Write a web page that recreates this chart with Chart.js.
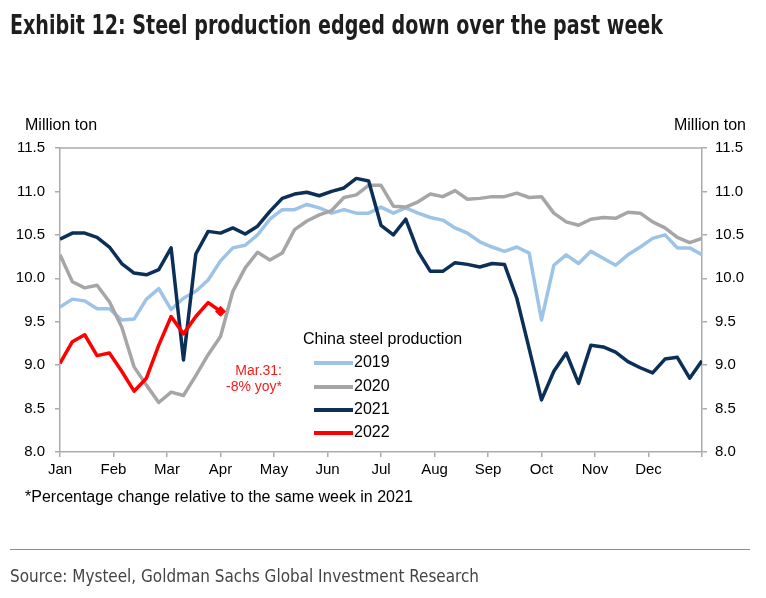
<!DOCTYPE html>
<html>
<head>
<meta charset="utf-8">
<title>Exhibit 12: Steel production</title>
<script src="https://cdn.jsdelivr.net/npm/chart.js@4.4.1/dist/chart.umd.min.js"></script>
<style>
  html, body { margin: 0; padding: 0; background: #fff; }
  .page { position: relative; width: 766px; height: 598px; overflow: hidden; font-family: "Liberation Sans", Arial, sans-serif; color: #000; }
  .chart-box { position: absolute; left: 0; top: 0; width: 766px; height: 598px; }
  .title { position: absolute; left: 10px; top: 9px; white-space: nowrap; transform-origin: 0 0; font-family: "Liberation Sans Narrow", "DejaVu Sans Condensed", "Arial Narrow", sans-serif; font-weight: bold; font-size: 27px; color: #1e1e1e; }
  .unit { position: absolute; top: 116px; font-size: 16px; white-space: nowrap; }
  .unit.left { left: 25px; }
  .unit.right { right: 20px; }
  .note { position: absolute; left: 25px; top: 488px; font-size: 16px; white-space: nowrap; }
  .rule { position: absolute; left: 10px; width: 740px; top: 549px; border-top: 1px solid #8c8c8c; }
  .source { position: absolute; left: 10px; top: 565px; white-space: nowrap; transform-origin: 0 0; font-family: "Liberation Sans Narrow", "DejaVu Sans Condensed", "Arial Narrow", sans-serif; font-size: 18px; color: #444; }
</style>
</head>
<body>
<div class="page">
  <div class="chart-box"><canvas id="steelChart"></canvas></div>
  <div class="title" data-fit="653">Exhibit 12: Steel production edged down over the past week</div>
  <div class="unit left">Million ton</div>
  <div class="unit right">Million ton</div>
  <div class="note">*Percentage change relative to the same week in 2021</div>
  <div class="rule"></div>
  <div class="source" data-fit="469">Source: Mysteel, Goldman Sachs Global Investment Research</div>
</div>

<script>
// Weekly output, million tons (53 weeks, Jan -> Dec)
const months = ['Jan', 'Feb', 'Mar', 'Apr', 'May', 'Jun', 'Jul', 'Aug', 'Sep', 'Oct', 'Nov', 'Dec'];
const yTicks = [8.0, 8.5, 9.0, 9.5, 10.0, 10.5, 11.0, 11.5];

const steel2019 = [9.67, 9.76, 9.74, 9.65, 9.65, 9.52, 9.53, 9.76, 9.88, 9.64,
                   9.77, 9.85, 9.98, 10.20, 10.35, 10.38, 10.50, 10.68, 10.79, 10.79,
                   10.85, 10.81, 10.75, 10.79, 10.75, 10.75, 10.82, 10.75, 10.81, 10.75,
                   10.70, 10.67, 10.58, 10.52, 10.42, 10.36, 10.31, 10.36, 10.29, 9.52,
                   10.15, 10.27, 10.17, 10.31, 10.23, 10.15, 10.27, 10.36, 10.46, 10.50,
                   10.35, 10.35, 10.27];
const steel2020 = [10.27, 9.96, 9.89, 9.92, 9.73, 9.44, 8.98, 8.77, 8.57, 8.69,
                   8.65, 8.88, 9.12, 9.33, 9.85, 10.12, 10.30, 10.21, 10.29, 10.56,
                   10.66, 10.73, 10.78, 10.93, 10.96, 11.07, 11.07, 10.83, 10.82, 10.88,
                   10.97, 10.94, 11.01, 10.91, 10.92, 10.94, 10.94, 10.98, 10.93, 10.94,
                   10.75, 10.65, 10.61, 10.68, 10.70, 10.69, 10.76, 10.75, 10.65, 10.58,
                   10.47, 10.41, 10.46];
const steel2021 = [10.45, 10.52, 10.52, 10.47, 10.36, 10.17, 10.06, 10.04, 10.10, 10.35,
                   9.06, 10.28, 10.54, 10.52, 10.58, 10.51, 10.60, 10.77, 10.92, 10.97,
                   10.99, 10.95, 11.00, 11.04, 11.15, 11.12, 10.61, 10.50, 10.68, 10.31,
                   10.08, 10.08, 10.18, 10.16, 10.13, 10.17, 10.16, 9.77, 9.19, 8.60,
                   8.93, 9.14, 8.79, 9.23, 9.21, 9.15, 9.04, 8.97, 8.91, 9.07,
                   9.09, 8.85, 9.05];
const steel2022 = [9.02, 9.27, 9.35, 9.11, 9.14, 8.93, 8.70, 8.85, 9.23, 9.56,
                   9.36, 9.56, 9.72, 9.62];

const lastWeek = 52;
const axisGrey = '#ababab';
const textFont = { family: '"Liberation Sans", Arial, sans-serif', size: 15 };

const toPoints = (values) => values.map((v, i) => ({ x: i, y: v }));

// Month boundaries expressed in week units
const monthTicks = () => {
    const ticks = [];
    for (let m = 0; m <= 12; m++) ticks.push({ value: m * lastWeek / 12 });
    return ticks;
};

// Squeeze the condensed headings to the width they have in the exhibit
const fitHeadings = () => {
    document.querySelectorAll('[data-fit]').forEach(el => {
        const target = Number(el.dataset.fit);
        const w = el.getBoundingClientRect().width;
        if (w > 0) el.style.transform = `scaleX(${target / w})`;
    });
};

// Top border + in-plot legend + annotation
const plotExtras = {
    id: 'plotExtras',
    beforeDatasetsDraw(chart) {
        const { ctx, chartArea: a } = chart;
        ctx.save();
        ctx.strokeStyle = axisGrey;
        ctx.lineWidth = 1.5;
        ctx.beginPath();
        ctx.moveTo(a.left, a.top);
        ctx.lineTo(a.right, a.top);
        ctx.stroke();
        ctx.restore();
    },
    afterDraw(chart) {
        const { ctx } = chart;
        ctx.save();
        ctx.font = '16px "Liberation Sans", Arial, sans-serif';
        ctx.textBaseline = 'middle';
        ctx.fillStyle = '#000';
        ctx.textAlign = 'left';
        ctx.fillText('China steel production', 303, 340);

        const rows = [363, 387, 410, 433];
        chart.data.datasets.forEach((ds, i) => {
            const y = rows[i];
            ctx.strokeStyle = ds.borderColor;
            ctx.lineWidth = 4;
            ctx.beginPath();
            ctx.moveTo(314, y);
            ctx.lineTo(353, y);
            ctx.stroke();
            ctx.fillStyle = '#000';
            ctx.fillText(ds.label, 354, y);
        });

        // Latest reading note
        ctx.fillStyle = '#f21c1c';
        ctx.textAlign = 'right';
        ctx.font = '14px "Liberation Sans", Arial, sans-serif';
        ctx.fillText('Mar.31:', 282, 371);
        ctx.fillText('-8% yoy*', 282, 387);
        ctx.restore();
    }
};

const initSteelChart = () => {
    const canvas = document.getElementById('steelChart');
    if (!canvas || typeof Chart === 'undefined') return;

    const lastIdx = steel2022.length - 1;

    const yAxis = (position, width) => ({
        type: 'linear',
        position: position,
        min: 8,
        max: 11.5,
        afterBuildTicks: (scale) => { scale.ticks = yTicks.map(v => ({ value: v })); },
        afterFit: (scale) => { scale.width = width; },
        grid: { drawOnChartArea: false, drawTicks: true, tickLength: 5, color: axisGrey, lineWidth: 1.5 },
        border: { display: true, color: axisGrey, width: 1.5 },
        ticks: { color: '#000', font: textFont, padding: position === 'left' ? 10 : 8, callback: (v) => Number(v).toFixed(1) }
    });

    new Chart(canvas, {
        type: 'line',
        data: {
            datasets: [
                { label: '2019', data: toPoints(steel2019), borderColor: '#9dc3e6', order: 4 },
                { label: '2020', data: toPoints(steel2020), borderColor: '#a6a6a6', order: 3 },
                { label: '2021', data: toPoints(steel2021), borderColor: '#0c2f57', order: 2 },
                {
                    label: '2022', data: toPoints(steel2022), borderColor: '#ff0000', order: 1,
                    backgroundColor: '#ff0000',
                    pointStyle: 'rectRot',
                    pointRadius: steel2022.map((v, i) => (i === lastIdx ? 5 : 0))
                }
            ]
        },
        options: {
            responsive: true,
            maintainAspectRatio: false,
            animation: false,
            layout: { padding: { top: 148, left: 0, right: 0, bottom: 0 } },
            elements: {
                line: { borderWidth: 3.5, tension: 0, borderJoinStyle: 'round', fill: false },
                point: { radius: 0 }
            },
            plugins: { legend: { display: false }, tooltip: { enabled: false } },
            scales: {
                x: {
                    type: 'linear',
                    min: 0,
                    max: lastWeek,
                    afterBuildTicks: (scale) => { scale.ticks = monthTicks(); },
                    afterFit: (scale) => { scale.height = 146; },
                    grid: { drawOnChartArea: false, drawTicks: true, tickLength: 5, color: axisGrey, lineWidth: 1.5 },
                    border: { display: true, color: axisGrey, width: 1.5 },
                    ticks: {
                        color: '#000',
                        font: textFont,
                        padding: 4,
                        maxRotation: 0,
                        autoSkip: false,
                        callback: (v, i) => months[i] || ''
                    }
                },
                y: yAxis('left', 60),
                y2: yAxis('right', 64)
            }
        },
        plugins: [plotExtras]
    });
};

document.addEventListener('DOMContentLoaded', () => {
    fitHeadings();
    initSteelChart();
});
</script>
</body>
</html>
